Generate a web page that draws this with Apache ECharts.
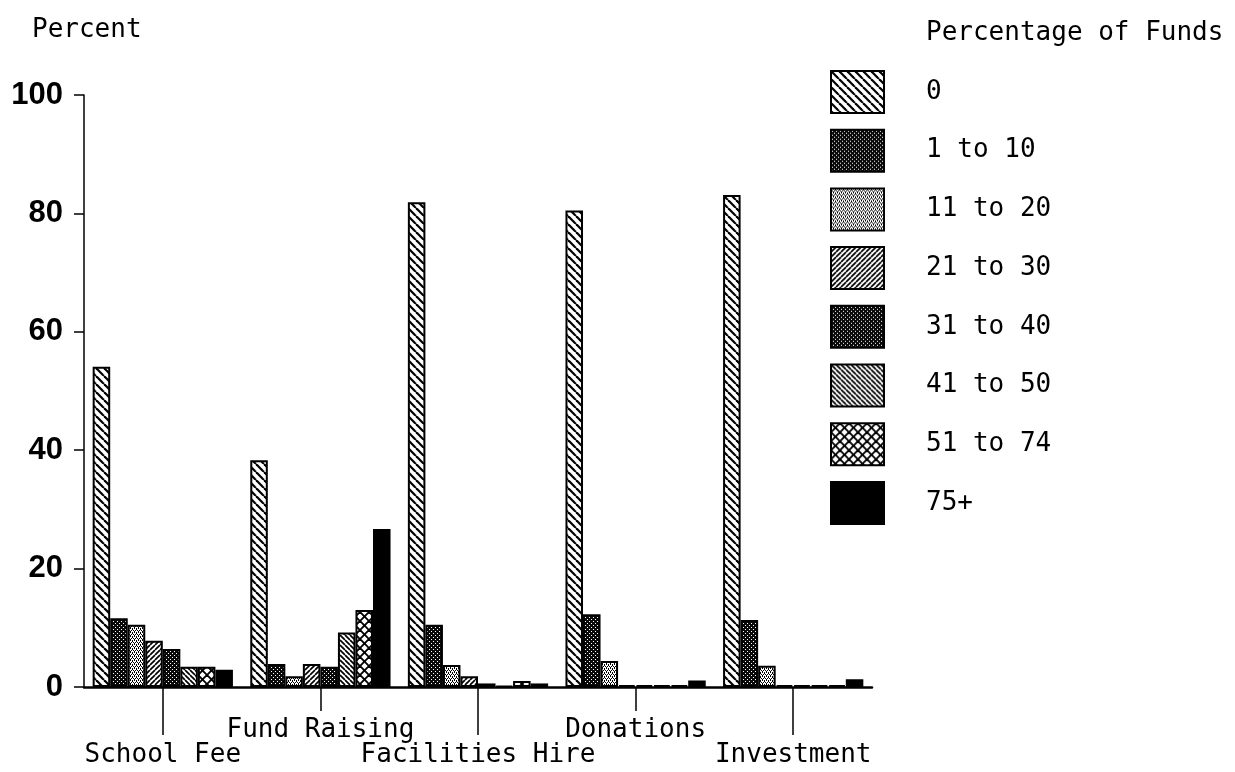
<!DOCTYPE html>
<html>
<head>
<meta charset="utf-8">
<script src="https://cdn.jsdelivr.net/npm/echarts@6/dist/echarts.min.js"></script>
<style>
html,body{margin:0;padding:0;background:#fff;}
#chart{width:1235px;height:772px;}
</style>
</head>
<body>
<div id="chart"></div>
<script>
// ---- data ----
var categories = ['School Fee', 'Fund Raising', 'Facilities Hire', 'Donations', 'Investment'];
var binNames = ['0', '1 to 10', '11 to 20', '21 to 30', '31 to 40', '41 to 50', '51 to 74', '75+'];
var bin0     = [54.1, 38.3, 81.9, 80.5, 83.1];
var bin1to10 = [11.6, 3.9, 10.5, 12.3, 11.3];
var bin11to20 = [10.5, 1.8, 3.7, 4.4, 3.6];
var bin21to30 = [7.8, 3.9, 1.8, 0.3, 0.3];
var bin31to40 = [6.4, 3.4, 0.6, 0.3, 0.3];
var bin41to50 = [3.4, 9.2, 0.2, 0.3, 0.3];
var bin51to74 = [3.4, 13.0, 1.0, 0.3, 0.3];
var bin75plus = [2.9, 26.7, 0.6, 1.1, 1.3];
var yTicks = [0, 20, 40, 60, 80, 100];

// ---- patterns ----
function canvasTile(w, h, bg) {
  var c = document.createElement('canvas');
  c.width = w; c.height = h;
  var ctx = c.getContext('2d');
  ctx.fillStyle = bg; ctx.fillRect(0, 0, w, h);
  return c;
}
function stripes(period, lw, dir) {
  var c = canvasTile(period, period, '#fff');
  var ctx = c.getContext('2d');
  ctx.strokeStyle = '#000'; ctx.lineWidth = lw;
  for (var k = -1; k <= 1; k++) {
    ctx.beginPath();
    if (dir === 'back') { ctx.moveTo(k * period, 0); ctx.lineTo(k * period + period, period); }
    else { ctx.moveTo(k * period, period); ctx.lineTo(k * period + period, 0); }
    ctx.stroke();
  }
  return c;
}
function cross(period, lw) {
  var c = canvasTile(period, period, '#fff');
  var ctx = c.getContext('2d');
  ctx.strokeStyle = '#000'; ctx.lineWidth = lw;
  for (var k = -1; k <= 1; k++) {
    ctx.beginPath(); ctx.moveTo(k * period, 0); ctx.lineTo(k * period + period, period); ctx.stroke();
    ctx.beginPath(); ctx.moveTo(k * period, period); ctx.lineTo(k * period + period, 0); ctx.stroke();
  }
  return c;
}
function darkDots() {
  var c = canvasTile(4, 4, '#0a0a0a');
  var ctx = c.getContext('2d');
  ctx.fillStyle = '#fff';
  ctx.fillRect(1, 1, 1, 1); ctx.fillRect(3, 3, 1, 1);
  return c;
}
function darkDots2() {
  var c = canvasTile(4, 4, '#0a0a0a');
  var ctx = c.getContext('2d');
  ctx.fillStyle = '#fff';
  ctx.fillRect(0, 1, 1, 1); ctx.fillRect(2, 3, 1, 1);
  return c;
}
function lightDots() {
  var c = canvasTile(4, 4, '#fff');
  var ctx = c.getContext('2d');
  ctx.fillStyle = '#000';
  ctx.fillRect(0, 0, 1, 1); ctx.fillRect(2, 0, 1, 1);
  ctx.fillRect(1, 2, 1, 1); ctx.fillRect(3, 2, 1, 1);
  ctx.fillRect(0, 1, 1, 1); ctx.fillRect(2, 3, 1, 1);
  return c;
}
function pat(c) { return { image: c, repeat: 'repeat' }; }

var fills = [
  pat(stripes(8, 2.2, 'back')),
  pat(darkDots()),
  pat(lightDots()),
  pat(stripes(5, 1.7, 'fwd')),
  pat(darkDots2()),
  pat(stripes(5, 1.7, 'back')),
  pat(cross(9, 1.9)),
  '#000'
];
var binData = [bin0, bin1to10, bin11to20, bin21to30, bin31to40, bin41to50, bin51to74, bin75plus];

var FONT = 'DejaVu Sans Mono';
var series = binNames.map(function (name, i) {
  return {
    name: name,
    type: 'bar',
    xAxisIndex: 0,
    barGap: '0%',
    barCategoryGap: '11%',
    data: binData[i],
    itemStyle: { color: fills[i], borderColor: '#000', borderWidth: 2 },
    emphasis: { disabled: true }
  };
});

var chart = echarts.init(document.getElementById('chart'), null, { renderer: 'canvas' });
chart.setOption({
  animation: false,
  backgroundColor: '#fff',
  title: [
    { text: 'Percent', left: 32, top: 17, padding: 0,
      textStyle: { fontFamily: FONT, fontSize: 26, fontWeight: 'normal', color: '#000', lineHeight: 26 } },
    { text: 'Percentage of Funds', left: 926, top: 20, padding: 0,
      textStyle: { fontFamily: FONT, fontSize: 26, fontWeight: 'normal', color: '#000', lineHeight: 26 } }
  ],
  legend: {
    orient: 'vertical',
    left: 830, top: 70, padding: 0,
    icon: 'rect',
    itemWidth: 53, itemHeight: 42, itemGap: 14.7,
    selectedMode: false,
    data: binNames,
    textStyle: { fontFamily: FONT, fontSize: 26, color: '#000', padding: [0, 0, 0, 37] }
  },
  grid: { left: 84, right: 363, top: 95, bottom: 85, containLabel: false },
  xAxis: [
    {
      type: 'category', data: categories, position: 'bottom',
      axisLine: { show: true, lineStyle: { color: '#000', width: 2.5 } },
      axisTick: { show: true, alignWithLabel: true, length: 48,
        interval: function (i) { return i % 2 === 0; },
        lineStyle: { color: '#000', width: 1.5 } },
      axisLabel: { interval: function (i) { return i % 2 === 0; }, margin: 55,
        fontFamily: FONT, fontSize: 26, color: '#000', lineHeight: 26 },
      splitLine: { show: false }
    },
    {
      type: 'category', data: categories, position: 'bottom', offset: 0,
      axisLine: { show: false },
      axisTick: { show: true, alignWithLabel: true, length: 24,
        interval: function (i) { return i % 2 === 1; },
        lineStyle: { color: '#000', width: 1.5 } },
      axisLabel: { interval: function (i) { return i % 2 === 1; }, margin: 30,
        fontFamily: FONT, fontSize: 26, color: '#000', lineHeight: 26 },
      splitLine: { show: false }
    }
  ],
  yAxis: {
    type: 'value', min: yTicks[0], max: yTicks[yTicks.length - 1], interval: 20,
    axisLine: { show: true, lineStyle: { color: '#000', width: 1.5 } },
    axisTick: { show: true, length: 10, lineStyle: { color: '#000', width: 1.5 } },
    axisLabel: { margin: 21, fontFamily: 'Liberation Sans', fontWeight: 'bold', fontSize: 31, color: '#000' },
    splitLine: { show: false }
  },
  series: series
});
</script>
</body>
</html>
